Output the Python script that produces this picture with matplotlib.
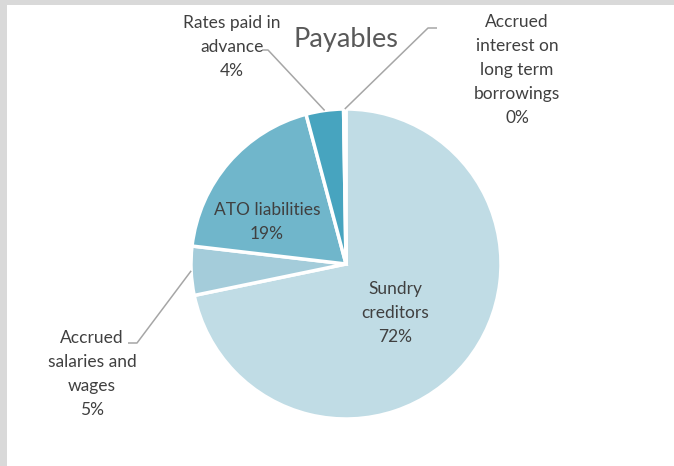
import numpy as np
import matplotlib
matplotlib.use('Agg')
import matplotlib.pyplot as plt
from matplotlib.patches import Rectangle

# Payables breakdown (percent of total)
labels = ['Sundry\ncreditors', 'Accrued\nsalaries and\nwages', 'ATO liabilities',
          'Rates paid in\nadvance', 'Accrued\ninterest on\nlong term\nborrowings']
values = [71.75, 5.1, 19.0, 3.9, 0.25]
pct_text = ['72%', '5%', '19%', '4%', '0%']
colors = ['#c0dce5', '#a4ccda', '#70b6cb', '#47a4bf', '#2f8fae']

W, H = 674, 466
fig = plt.figure(figsize=(W / 100, H / 100), dpi=100, facecolor='#d9d9d9')
fig.patches.append(Rectangle((7 / W, 0), 1, 1 - 5 / H, transform=fig.transFigure,
                             facecolor='white', edgecolor='none', zorder=-1))

ax = fig.add_axes([0, 0, 1, 1])
ax.patch.set_alpha(0)

cx, cy, r = 346, H - 264, 155
wedges, _ = ax.pie(values, colors=colors, startangle=90, counterclock=False,
                   center=(cx, cy), radius=r, frame=True,
                   wedgeprops=dict(edgecolor='white', linewidth=2.5))
ax.set_xlim(0, W)
ax.set_ylim(0, H)
ax.set_aspect('equal')
ax.axis('off')

font = 'Lato'
txt_col = '#404040'
fs = 12.5
ls = 1.6

ax.text(cx, H - 40, 'Payables', ha='center', va='center', fontsize=19.5,
        color='#595959', family=font)

# inside labels
ax.text(395, H - 313, labels[0] + '\n' + pct_text[0], ha='center', va='center',
        fontsize=fs, color=txt_col, family=font, linespacing=ls)
ax.text(267, H - 222, labels[2] + '\n' + pct_text[2], ha='center', va='center',
        fontsize=fs, color=txt_col, family=font, linespacing=ls)

# outside labels with leader lines
outside = {
    3: ((232, 47), (268, 50), (262, 50)),
    4: ((517, 70), (428, 28), (437, 28)),
    1: ((92, 374), (137, 343), (128, 343)),
}
for i, ((tx, ty), (bx, by), (ex, ey)) in outside.items():
    ax.text(tx, H - ty, labels[i] + '\n' + pct_text[i], ha='center', va='center',
            fontsize=fs, color=txt_col, family=font, linespacing=ls)
    w = wedges[i]
    mid = np.deg2rad((w.theta1 + w.theta2) / 2)
    px, py = cx + r * np.cos(mid), cy + r * np.sin(mid)
    ax.plot([px, bx, ex], [py, H - by, H - ey], color='#a6a6a6', lw=1.1,
            solid_capstyle='butt')

fig.savefig('out.png', dpi=100, facecolor=fig.get_facecolor())
